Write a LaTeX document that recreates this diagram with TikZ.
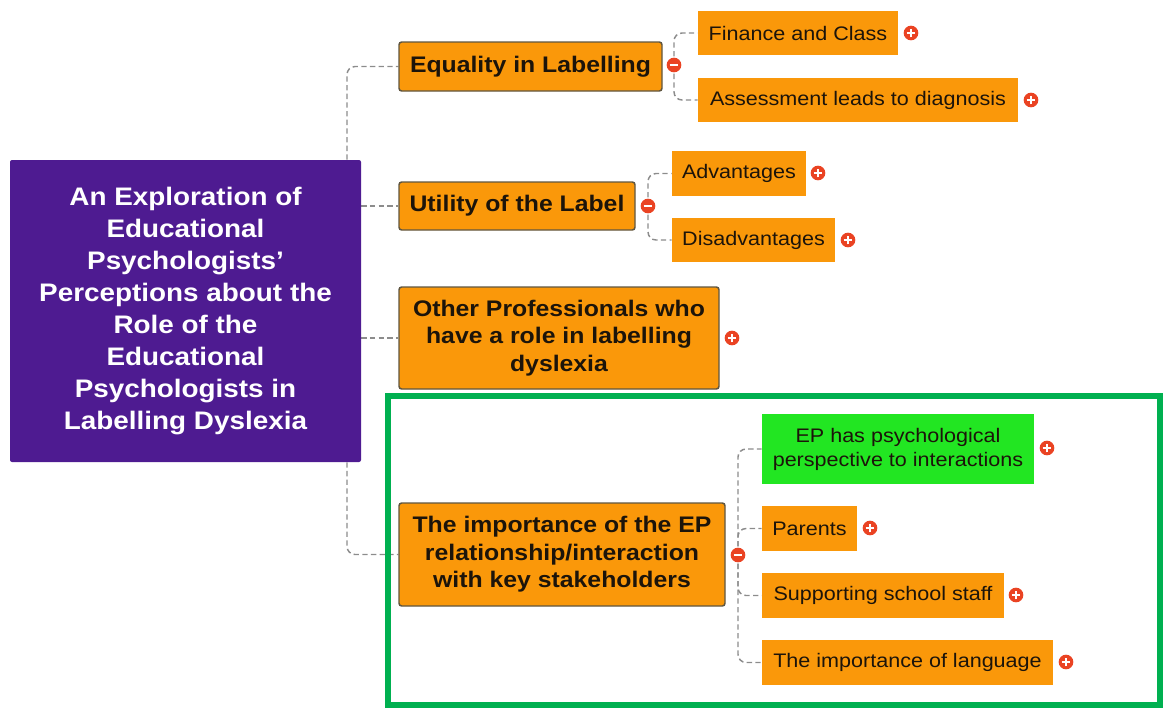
\documentclass[tikz,border=0pt]{standalone}
\usepackage{fontspec}
\setmainfont[FakeStretch=1.1]{Liberation Sans}
\usetikzlibrary{backgrounds}
\definecolor{rootpurple}{RGB}{78,27,145}
\definecolor{boxorange}{RGB}{250,152,10}
\definecolor{hilite}{RGB}{34,230,34}
\definecolor{framegreen}{RGB}{0,176,80}
\definecolor{toggle}{RGB}{234,67,35}
\definecolor{edge}{RGB}{96,86,64}
\definecolor{ink}{RGB}{28,20,10}
\definecolor{linkgray}{RGB}{140,140,140}
\begin{document}
\begin{tikzpicture}[x=0.75pt,y=-0.75pt,
  rootbox/.style={fill=rootpurple, text=white, font=\bfseries\fontsize{19}{24}\selectfont,
    align=center, inner sep=0, rounded corners=1.5pt},
  topic/.style={fill=boxorange, draw=edge, line width=1.1pt, rounded corners=2pt, text=ink,
    font=\bfseries\fontsize{16.9}{20.5}\selectfont, align=center, inner sep=0},
  leaf/.style={fill=boxorange, text=ink, font=\fontsize{14.7}{18}\selectfont,
    align=center, inner sep=0},
  link/.style={draw=linkgray, line width=1.1pt, dash pattern=on 4pt off 2.5pt, rounded corners=6pt},
  tog/.style={circle, fill=toggle, minimum size=11pt, inner sep=0},
  collapse/.style={tog, path picture={\draw[white,line width=1.6pt]
    ([xshift=-3.2pt]path picture bounding box.center) -- ([xshift=3.2pt]path picture bounding box.center);}},
  expand/.style={tog, path picture={\draw[white,line width=1.6pt]
    ([xshift=-3.2pt]path picture bounding box.center) -- ([xshift=3.2pt]path picture bounding box.center)
    ([yshift=-3.2pt]path picture bounding box.center) -- ([yshift=3.2pt]path picture bounding box.center);}}
]
\useasboundingbox (0,0) rectangle (1165,711);

% central topic
\node[rootbox, minimum width=263.25pt, minimum height=226.5pt] (root) at (185.5,311)
  {An Exploration of\\Educational\\Psychologists’\\Perceptions about the\\Role of the\\Educational\\Psychologists in\\Labelling Dyslexia};

% main branches
\node[topic, minimum width=197.25pt, minimum height=36.75pt] (eq) at (530.5,66.5) {Equality in Labelling};
\node[topic, minimum width=177pt, minimum height=36pt] (util) at (517,206) {Utility of the Label};
\node[topic, minimum width=240pt, minimum height=76.5pt] (other) at (559,338)
  {Other Professionals who\\have a role in labelling\\dyslexia};
\node[topic, minimum width=244.5pt, minimum height=77.25pt] (imp) at (562,554.5)
  {The importance of the EP\\relationship/interaction\\with key stakeholders};

% sub-topics
\node[leaf, minimum width=150pt, minimum height=33pt] (fin) at (798,33) {Finance and Class};
\node[leaf, minimum width=240pt, minimum height=33pt] (ass) at (858,100) {Assessment leads to diagnosis};
\node[leaf, minimum width=100.5pt, minimum height=33.75pt] (adv) at (739,173.5) {Advantages};
\node[leaf, minimum width=122.25pt, minimum height=33pt] (dis) at (753.5,240) {Disadvantages};
\node[leaf, fill=hilite, minimum width=204pt, minimum height=52.5pt] (ep) at (898,449)
  {EP has psychological\\perspective to interactions};
\node[leaf, minimum width=71.25pt, minimum height=33.75pt] (par) at (809.5,528.5) {Parents};
\node[leaf, minimum width=181.5pt, minimum height=33.75pt] (staff) at (883,595.5) {Supporting school staff};
\node[leaf, minimum width=218.25pt, minimum height=33.75pt] (lang) at (907.5,662.5) {The importance of language};

% collapse / expand toggles
\node[collapse] (m-eq) at (674,65) {};
\node[collapse] (m-util) at (648,206) {};
\node[collapse] (m-imp) at (738,555) {};
\node[expand] (p-fin) at (911,33) {};
\node[expand] (p-ass) at (1031,100) {};
\node[expand] (p-adv) at (818,173) {};
\node[expand] (p-dis) at (848,240) {};
\node[expand] (p-other) at (732,338) {};
\node[expand] (p-ep) at (1047,448) {};
\node[expand] (p-par) at (870,528) {};
\node[expand] (p-staff) at (1016,595) {};
\node[expand] (p-lang) at (1066,662) {};

\coordinate (trunk) at (347,0);

\begin{scope}[on background layer]
  \draw[link] (root.north -| trunk) |- (eq.west);
  \draw[link] (root.east |- util.west) -- (util.west);
  \draw[link] (root.east |- other.west) -- (other.west);
  \draw[link] (root.south -| trunk) |- (imp.west);
  \draw[link] (m-eq.center) |- (fin.west);
  \draw[link] (m-eq.center) |- (ass.west);
  \draw[link] (m-util.center) |- (adv.west);
  \draw[link] (m-util.center) |- (dis.west);
  \draw[link] (m-imp.center) |- (ep.west);
  \draw[link] (m-imp.center) |- (par.west);
  \draw[link] (m-imp.center) |- (staff.west);
  \draw[link] (m-imp.center) |- (lang.west);
\end{scope}

% highlight frame
\draw[framegreen, line width=4.5pt] (388,396) rectangle (1160,705);
\end{tikzpicture}
\end{document}
